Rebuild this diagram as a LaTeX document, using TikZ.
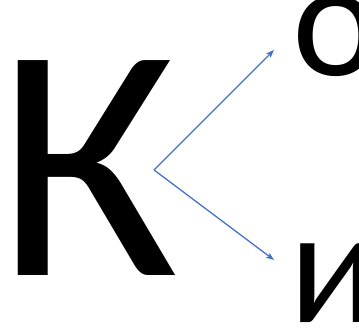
\documentclass[tikz,border=0pt]{standalone}
\usepackage{fontspec}
\setmainfont{Carlito}
\usetikzlibrary{arrows.meta}
\definecolor{arrblue}{RGB}{68,114,196}
\begin{document}
\begin{tikzpicture}[x=1pt,y=1pt,
  letter/.style={inner sep=0pt,outer sep=0pt,anchor=base west,text=black},
  conn/.style={draw=arrblue,line width=1.3pt,-{Stealth[length=8pt,width=6pt,inset=2pt]}}]
\useasboundingbox (0,0) rectangle (359,-328);
\clip (0,0) rectangle (359,-328);
\node[letter,font=\fontsize{335}{335}\selectfont] (K) at (-3.4,-276) {К};
\node[letter,font=\fontsize{165}{165}\selectfont] (o) at (292,-76) {о};
\node[letter,font=\fontsize{165}{165}\selectfont] (i) at (289.5,-323) {и};
\coordinate (c) at (154,-170);
\coordinate (to) at (274,-50);
\coordinate (ti) at (274,-260);
\draw[conn] (c) -- (to);
\draw[conn] (c) -- (ti);
\end{tikzpicture}
\end{document}
